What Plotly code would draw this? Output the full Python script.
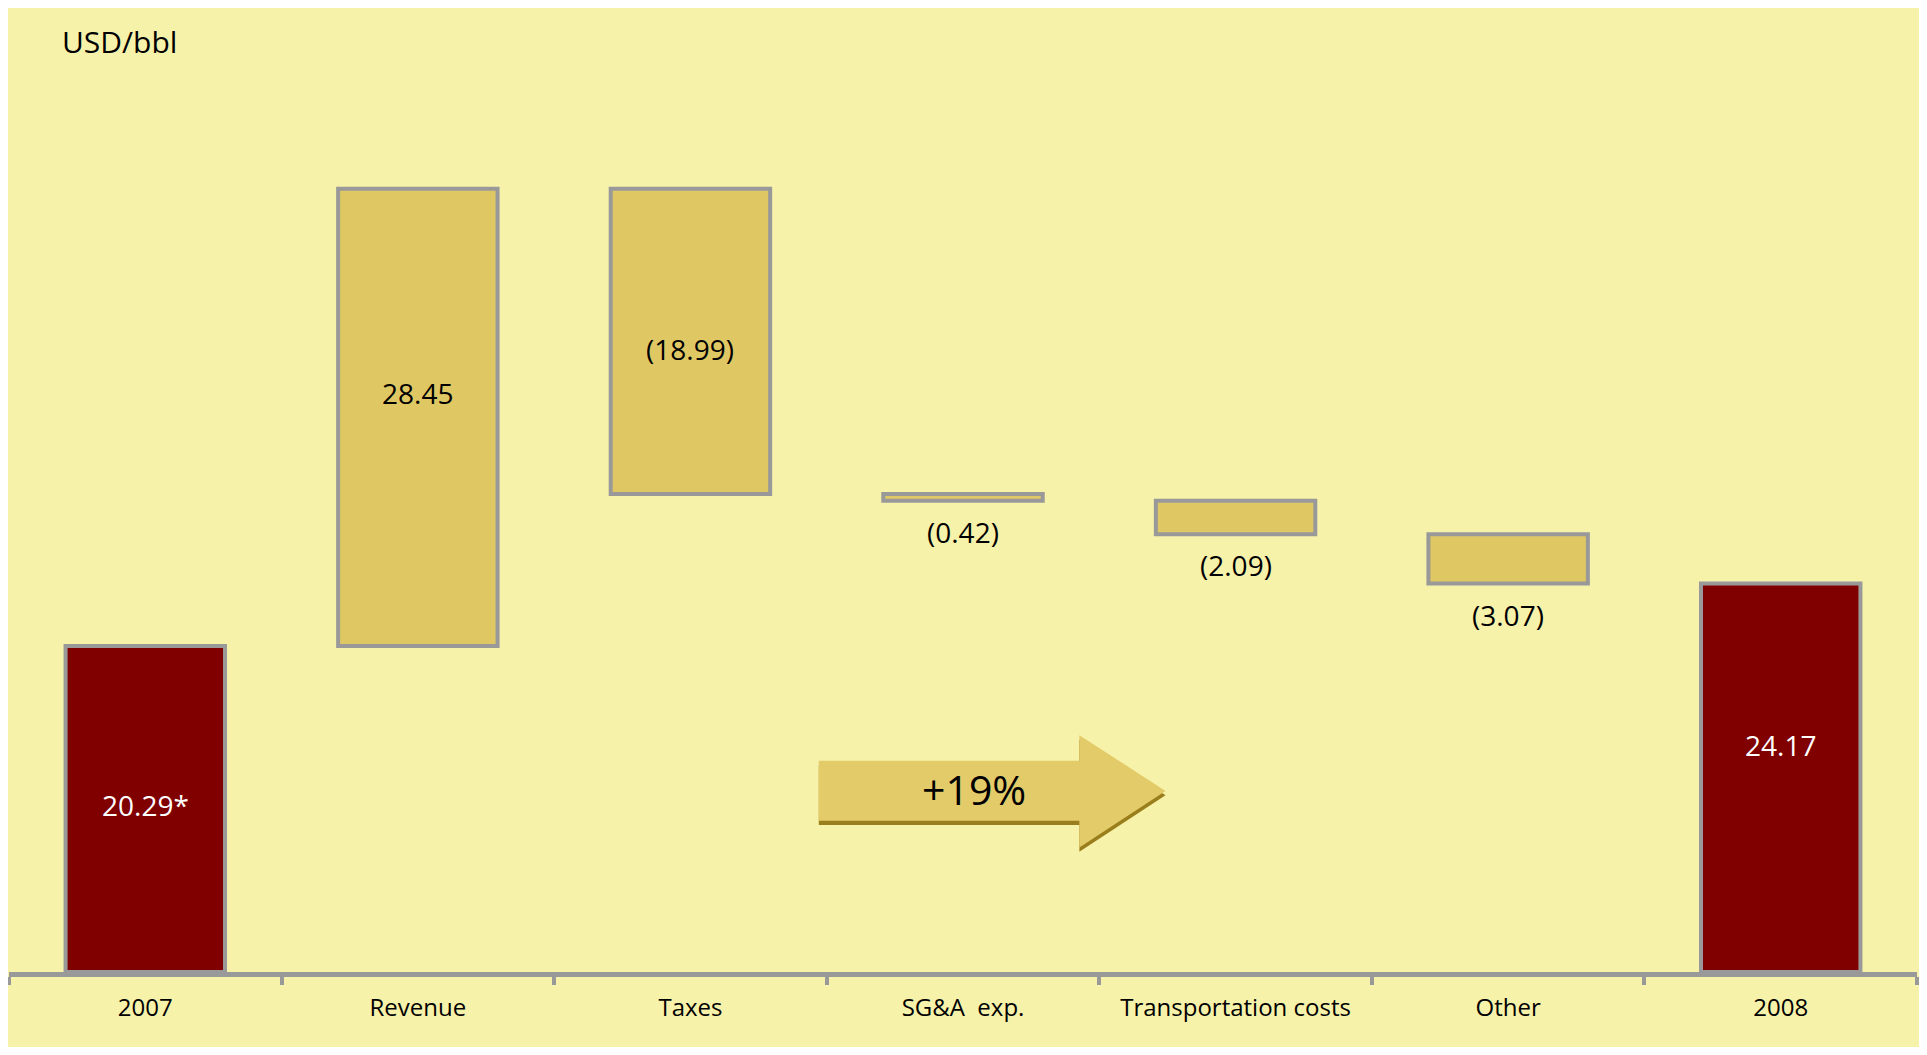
import plotly.graph_objects as go

categories = ["2007", "Revenue", "Taxes", "SG&A  exp.", "Transportation costs", "Other", "2008"]
start_value = 20.29
changes = [28.45, -18.99, -0.42, -2.09, -3.07]
end_value = 24.17
labels = ["20.29*", "28.45", "(18.99)", "(0.42)", "(2.09)", "(3.07)", "24.17"]
growth_label = "+19%"
unit_label = "USD/bbl"

# style
BG = "#F7F2AA"
GOLD = "#DFC864"
MAROON = "#800000"
GREY = "#999999"
FONT = "Open Sans"
label_frac = [0.513, 0.553, 0.474, None, None, None, 0.585]  # vertical placement inside bar
label_color = ["white", "black", "black", "black", "black", "black", "white"]

# build bars
bases, heights, colors = [], [], []
bases.append(0); heights.append(start_value); colors.append(MAROON)
level = start_value
for c in changes:
    new = level + c
    bases.append(min(level, new)); heights.append(abs(c)); colors.append(GOLD)
    level = new
bases.append(0); heights.append(end_value); colors.append(MAROON)

fig = go.Figure()
fig.add_trace(go.Bar(
    x=categories, y=heights, base=bases,
    marker=dict(color=colors, line=dict(color=GREY, width=4)),
    width=0.585, hoverinfo="skip",
))

ymax = 58.0
annotations = []
for i, (lab, b, h) in enumerate(zip(labels, bases, heights)):
    f = label_frac[i]
    if f is not None:
        annotations.append(dict(x=i, y=b + f * h, text=lab, showarrow=False,
                                font=dict(family=FONT, size=28, color=label_color[i]),
                                xanchor="center", yanchor="middle"))
    else:
        annotations.append(dict(x=i, y=b, text=lab, showarrow=False,
                                font=dict(family=FONT, size=28, color=label_color[i]),
                                xanchor="center", yanchor="middle", yshift=-31))

annotations.append(dict(x=0.0265, y=0.998, xref="paper", yref="paper", text=unit_label,
                        showarrow=False, xanchor="left", yanchor="middle",
                        font=dict(family=FONT, size=30, color="black")))
annotations.append(dict(x=3.04, y=11.4, text=growth_label, showarrow=False,
                        xanchor="center", yanchor="middle",
                        font=dict(family=FONT, size=41, color="black")))

# arrow decoration (data coords)
def arrow_path(dy=0.0):
    x0, x1, x2 = 2.471, 3.427, 3.743
    ys_top, ys_bot = 13.14 - dy, 9.42 - dy
    yh_top, yh_bot, ytip = 14.74 - dy, 7.75 - dy, 11.27 - dy
    return (f"M {x0},{ys_top} L {x1},{ys_top} L {x1},{yh_top} L {x2},{ytip} "
            f"L {x1},{yh_bot} L {x1},{ys_bot} L {x0},{ys_bot} Z")

shapes = [
    dict(type="path", path=arrow_path(0.27), fillcolor="#9A7E1C", line=dict(width=0), layer="below"),
    dict(type="path", path=arrow_path(0.0), fillcolor="#E3CB6A", line=dict(width=0), layer="below"),
]

fig.update_layout(
    width=1911, height=1039,
    margin=dict(l=1, r=2, t=32, b=75),
    paper_bgcolor=BG, plot_bgcolor=BG,
    showlegend=False, bargap=0.4,
    xaxis=dict(type="category", range=[-0.5, len(categories) - 0.5],
               tickson="boundaries", ticks="outside", ticklen=8, tickwidth=4, tickcolor=GREY,
               showline=True, linecolor=GREY, linewidth=5, showgrid=False, zeroline=False,
               tickfont=dict(family=FONT, size=24, color="black"), ticklabelstandoff=10,
               fixedrange=True),
    yaxis=dict(range=[0, ymax], visible=False, fixedrange=True),
    annotations=annotations, shapes=shapes,
)

fig.write_html("out.html")
